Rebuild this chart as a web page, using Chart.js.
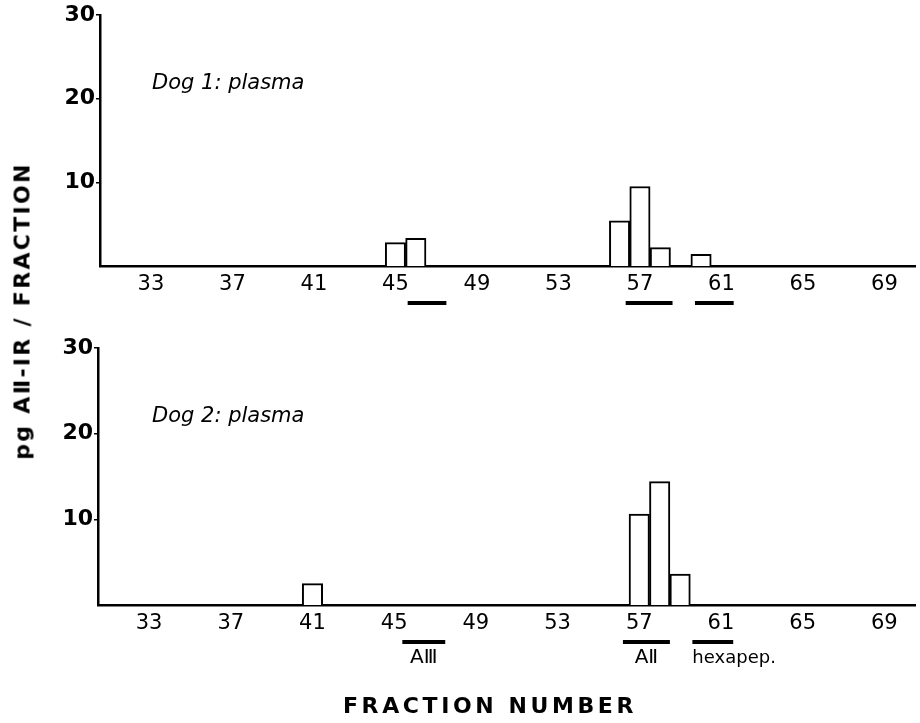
<!DOCTYPE html>
<html>
<head>
<meta charset="utf-8">
<script src="https://cdn.jsdelivr.net/npm/chart.js@4"></script>
<style>
  body { margin: 0; background: #fff; width: 920px; height: 723px; position: relative; overflow: hidden; font-family: "DejaVu Sans", sans-serif; color: #000; }
  canvas { position: absolute; left: 0; }
  #topChart { top: 0; }
  #bottomChart { top: 320px; }
  .ytitle { position: absolute; left: 22px; top: 311px; transform: translate(-50%, -50%) rotate(-90deg); font-weight: bold; font-size: 22px; white-space: nowrap; letter-spacing: 2.3px; }
  .xtitle { position: absolute; left: 490px; top: 705px; transform: translate(-50%, -50%); font-weight: bold; font-size: 22px; white-space: nowrap; letter-spacing: 3.6px; }
  .panel { position: absolute; font-style: italic; font-size: 21px; white-space: nowrap; }
</style>
</head>
<body>
<canvas id="topChart" width="920" height="320"></canvas>
<canvas id="bottomChart" width="920" height="403"></canvas>
<div class="ytitle">pg AⅡ-IR / FRACTION</div>
<div class="xtitle">FRACTION NUMBER</div>
<div class="panel" style="left:152px; top:70px;">Dog 1: plasma</div>
<div class="panel" style="left:152px; top:403px;">Dog 2: plasma</div>
<script>
// Data --------------------
const fractions = Array.from({ length: 40 }, (_, i) => 31 + i);
const dog1Fractions = [45, 46, 56, 57, 58, 60];
const dog1Values = [2.8, 3.3, 5.4, 9.5, 2.2, 1.4];
const dog2Fractions = [41, 57, 58, 59];
const dog2Values = [2.5, 10.6, 14.4, 3.6];
const yTicks = [10, 20, 30];

// marker bars under the axis (fraction ranges)
const dog1Marks = [
  { from: 45.6, to: 47.5, text: '' },
  { from: 56.3, to: 58.6, text: '' },
  { from: 59.7, to: 61.6, text: '' },
];
const dog2Marks = [
  { from: 45.4, to: 47.5, text: 'AⅢ', align: 'center', size: 20 },
  { from: 56.2, to: 58.5, text: 'AⅡ', align: 'center', size: 20 },
  { from: 59.6, to: 61.6, text: 'hexapep.', align: 'left', size: 18 },
];

const toSeries = (fracs, values) =>
  fractions.map(f => {
    const i = fracs.indexOf(f);
    return i >= 0 ? values[i] : null;
  });

const marksPlugin = {
  id: 'marks',
  afterDraw(chart, args, opts) {
    const { ctx, chartArea } = chart;
    const x = chart.scales.x;
    ctx.save();
    ctx.strokeStyle = '#000';
    ctx.fillStyle = '#000';
    ctx.lineWidth = 4;
    opts.list.forEach(m => {
      const x1 = x.getPixelForValue(m.from - 31);
      const x2 = x.getPixelForValue(m.to - 31);
      const y = chartArea.bottom + 37;
      ctx.beginPath();
      ctx.moveTo(x1, y);
      ctx.lineTo(x2, y);
      ctx.stroke();
      if (m.text) {
        ctx.font = `${m.size}px "DejaVu Sans"`;
        ctx.textBaseline = 'middle';
        ctx.textAlign = m.align;
        ctx.fillText(m.text, m.align === 'left' ? x1 : (x1 + x2) / 2, y + 16);
      }
    });
    ctx.restore();
  },
};

const makeChart = (id, fracs, values, marks, padTop, xHeight, yWidth) =>
  new Chart(document.getElementById(id), {
    type: 'bar',
    data: {
      labels: fractions,
      datasets: [
        {
          data: toSeries(fracs, values),
          backgroundColor: '#fff',
          borderColor: '#000',
          borderWidth: 2,
          borderSkipped: 'bottom',
          barPercentage: 1,
          categoryPercentage: 1,
        },
      ],
    },
    options: {
      responsive: false,
      animation: false,
      layout: { padding: { top: padTop, right: 5, left: 0, bottom: 0 } },
      plugins: { legend: { display: false }, tooltip: { enabled: false }, marks: { list: marks } },
      scales: {
        x: {
          type: 'category',
          offset: true,
          grid: { display: false, drawTicks: false },
          border: { display: true, color: '#000', width: 2.5 },
          ticks: {
            autoSkip: false,
            maxRotation: 0,
            color: '#000',
            padding: 6,
            font: { family: 'DejaVu Sans', size: 21 },
            callback(val, i) {
              const f = fractions[i];
              return (f - 33) % 4 === 0 ? String(f) : '';
            },
          },
          afterFit(scale) {
            scale.height = xHeight;
          },
        },
        y: {
          min: 0,
          max: 30,
          grid: { drawOnChartArea: false, drawTicks: true, tickLength: 4, color: '#000', lineWidth: 1.5 },
          border: { color: '#000', width: 2.5 },
          ticks: { color: '#000', padding: 1, font: { family: 'DejaVu Sans', size: 22, weight: 'bold' } },
          afterBuildTicks(scale) {
            scale.ticks = yTicks.map(value => ({ value }));
          },
          afterFit(scale) {
            scale.width = yWidth;
          },
        },
      },
    },
    plugins: [marksPlugin],
  });

makeChart('topChart', dog1Fractions, dog1Values, dog1Marks, 15, 54, 100);
makeChart('bottomChart', dog2Fractions, dog2Values, dog2Marks, 28, 118, 98);
</script>
</body>
</html>
